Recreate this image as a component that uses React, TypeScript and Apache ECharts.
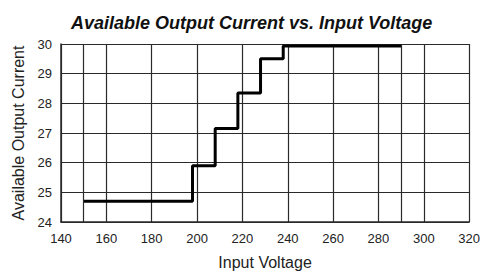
import React, { useEffect, useRef } from "react";
import * as echarts from "echarts";

const stepVoltages = [150, 198, 208, 218, 228, 238, 290];
const stepCurrents = [24.7, 25.9, 27.15, 28.35, 29.5, 29.93, 29.93];
const extraGridVoltages = [150, 290];
const xRange = [140, 320];
const yRange = [24, 30];

const FONT = "'Liberation Sans', Arial, Helvetica, sans-serif";
const GRID_COLOR = "#2a2a2a";

export default function App() {
  const ref = useRef<HTMLDivElement>(null);
  useEffect(() => {
    document.body.style.margin = "0";
    if (!ref.current) return;
    const chart = echarts.init(ref.current, undefined, { renderer: "svg" });
    chart.setOption({
      animation: false,
      backgroundColor: "#ffffff",
      title: {
        text: "Available Output Current vs. Input Voltage",
        left: 66,
        top: 9,
        textStyle: {
          fontFamily: FONT,
          fontSize: 18,
          fontWeight: "bold",
          fontStyle: "italic",
          color: "#111",
        },
      },
      grid: { left: 61, right: 12, top: 44, bottom: 47 },
      xAxis: {
        type: "value",
        min: xRange[0],
        max: xRange[1],
        interval: 20,
        name: "Input Voltage",
        nameLocation: "middle",
        nameGap: 32,
        nameTextStyle: { fontFamily: FONT, fontSize: 16, color: "#222" },
        axisLine: { show: true, lineStyle: { color: GRID_COLOR, width: 1.5 } },
        axisTick: { show: false },
        axisLabel: { fontFamily: FONT, fontSize: 13, color: "#222", margin: 10 },
        splitLine: { show: true, lineStyle: { color: GRID_COLOR, width: 1.2 } },
      },
      yAxis: {
        type: "value",
        min: yRange[0],
        max: yRange[1],
        interval: 1,
        name: "Available Output Current",
        nameLocation: "middle",
        nameGap: 30,
        nameTextStyle: { fontFamily: FONT, fontSize: 16, color: "#222" },
        axisLine: { show: true, lineStyle: { color: GRID_COLOR, width: 1.5 } },
        axisTick: { show: false },
        axisLabel: { fontFamily: FONT, fontSize: 13, color: "#222", margin: 9 },
        splitLine: { show: true, lineStyle: { color: GRID_COLOR, width: 1.2 } },
      },
      series: [
        {
          type: "line",
          step: "end",
          data: stepVoltages.map((v, i) => [v, stepCurrents[i]]),
          showSymbol: false,
          symbol: "none",
          lineStyle: { color: "#000", width: 3 },
          markLine: {
            silent: true,
            symbol: "none",
            label: { show: false },
            lineStyle: { color: GRID_COLOR, width: 1.2, type: "solid" },
            data: extraGridVoltages.map((v) => ({ xAxis: v })),
          },
          z: 3,
        },
      ],
    });
    return () => chart.dispose();
  }, []);
  return <div ref={ref} style={{ width: 483, height: 275 }} />;
}
